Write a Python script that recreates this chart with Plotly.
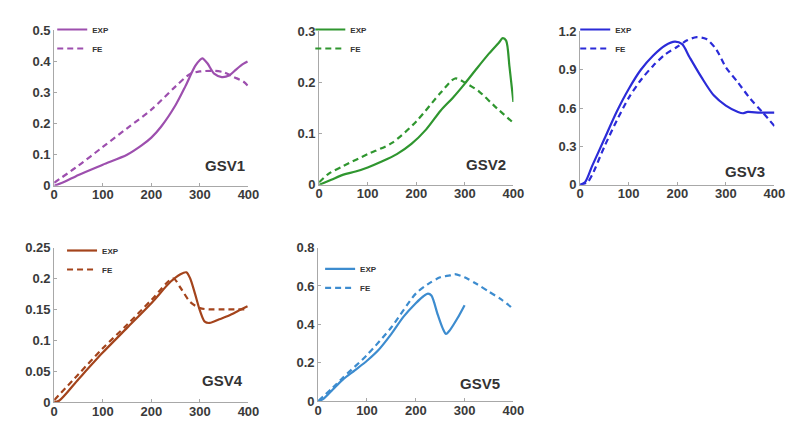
import plotly.graph_objects as go

# ---------------- data ----------------
gsv1_exp_x = [0, 20, 50, 100, 150, 180, 200, 220, 250, 270, 290, 300, 305, 315, 330, 345, 360, 375, 390, 398]
gsv1_exp_y = [0, 0.012, 0.035, 0.068, 0.1, 0.13, 0.155, 0.19, 0.26, 0.32, 0.385, 0.405, 0.41, 0.395, 0.36, 0.35, 0.355, 0.375, 0.393, 0.40]
gsv1_fe_x = [0, 50, 100, 150, 200, 250, 280, 300, 330, 350, 370, 390, 400]
gsv1_fe_y = [0.01, 0.065, 0.125, 0.185, 0.245, 0.32, 0.36, 0.368, 0.37, 0.365, 0.35, 0.335, 0.32]

gsv2_exp_x = [0, 25, 50, 75, 100, 130, 160, 190, 220, 250, 275, 300, 325, 350, 370, 378, 385, 392, 400]
gsv2_exp_y = [0, 0.01, 0.02, 0.026, 0.034, 0.046, 0.06, 0.08, 0.108, 0.145, 0.17, 0.198, 0.228, 0.257, 0.278, 0.287, 0.282, 0.23, 0.162]
gsv2_fe_x = [0, 20, 50, 100, 150, 200, 250, 280, 300, 330, 360, 400]
gsv2_fe_y = [0.005, 0.022, 0.037, 0.06, 0.082, 0.124, 0.18, 0.208, 0.2, 0.182, 0.155, 0.121]

gsv3_exp_x = [0, 10, 25, 50, 75, 100, 125, 150, 175, 195, 210, 225, 250, 275, 300, 325, 335, 345, 370, 400]
gsv3_exp_y = [0, 0.02, 0.15, 0.36, 0.57, 0.75, 0.9, 1.01, 1.09, 1.12, 1.1, 1.0, 0.84, 0.7, 0.62, 0.57, 0.56, 0.57, 0.565, 0.565]
gsv3_fe_x = [0, 15, 25, 50, 75, 100, 125, 150, 175, 200, 220, 240, 260, 280, 300, 325, 350, 375, 400]
gsv3_fe_y = [0, 0.02, 0.08, 0.3, 0.5, 0.68, 0.82, 0.93, 1.02, 1.08, 1.13, 1.155, 1.14, 1.06, 0.92, 0.8, 0.675, 0.57, 0.46]

gsv4_exp_x = [0, 10, 50, 100, 150, 200, 240, 260, 272, 280, 290, 300, 310, 320, 340, 360, 380, 398]
gsv4_exp_y = [0, 0.002, 0.037, 0.08, 0.12, 0.16, 0.195, 0.207, 0.21, 0.2, 0.175, 0.148, 0.13, 0.128, 0.134, 0.14, 0.148, 0.155]
gsv4_fe_x = [0, 50, 100, 150, 200, 245, 260, 280, 300, 320, 350, 400]
gsv4_fe_y = [0.003, 0.045, 0.087, 0.125, 0.165, 0.2, 0.185, 0.162, 0.152, 0.15, 0.15, 0.15]

gsv5_exp_x = [0, 10, 30, 50, 75, 100, 125, 150, 175, 200, 215, 225, 232, 245, 255, 262, 270, 285, 300]
gsv5_exp_y = [0, 0.01, 0.06, 0.11, 0.16, 0.21, 0.27, 0.35, 0.44, 0.51, 0.545, 0.56, 0.55, 0.45, 0.38, 0.35, 0.37, 0.43, 0.5]
gsv5_fe_x = [0, 30, 50, 100, 150, 200, 225, 250, 270, 280, 300, 325, 350, 375, 400]
gsv5_fe_y = [0, 0.07, 0.12, 0.24, 0.385, 0.56, 0.61, 0.645, 0.655, 0.662, 0.645, 0.61, 0.57, 0.53, 0.48]

titles = ["GSV1", "GSV2", "GSV3", "GSV4", "GSV5"]
x_ticks = [0, 100, 200, 300, 400]
y_ticks = [
    [0, 0.1, 0.2, 0.3, 0.4, 0.5],
    [0, 0.1, 0.2, 0.3],
    [0, 0.3, 0.6, 0.9, 1.2],
    [0, 0.05, 0.1, 0.15, 0.2, 0.25],
    [0, 0.2, 0.4, 0.6, 0.8],
]
y_tick_text = [
    ["0", "0.1", "0.2", "0.3", "0.4", "0.5"],
    ["0", "0.1", "0.2", "0.3"],
    ["0", "0.3", "0.6", "0.9", "1.2"],
    ["0", "0.05", "0.1", "0.15", "0.2", "0.25"],
    ["0", "0.2", "0.4", "0.6", "0.8"],
]
colors = ["#9d4fae", "#2f962f", "#2b2bd8", "#a4441c", "#3d8ccf"]

series = [
    (gsv1_exp_x, gsv1_exp_y, gsv1_fe_x, gsv1_fe_y),
    (gsv2_exp_x, gsv2_exp_y, gsv2_fe_x, gsv2_fe_y),
    (gsv3_exp_x, gsv3_exp_y, gsv3_fe_x, gsv3_fe_y),
    (gsv4_exp_x, gsv4_exp_y, gsv4_fe_x, gsv4_fe_y),
    (gsv5_exp_x, gsv5_exp_y, gsv5_fe_x, gsv5_fe_y),
]

# ---------------- layout geometry (pixels) ----------------
W, H = 800, 430
# (left, right, top, bottom) of each plot area
boxes = [
    (43, 241, 16, 177),
    (313, 511, 17, 176),
    (579, 777, 17, 176),
    (43, 241, 241, 401),
    (312, 511, 241, 400),
]
legend_pos = [(41, 0), (304, 0), (574, 0), (51, 229), (314, 248)]
label_pos = [(0.88, 0.13), (0.86, 0.13), (0.85, 0.09), (0.867, 0.14), (0.83, 0.115)]

fig = go.Figure()
layout = dict(
    width=W, height=H,
    margin=dict(l=0, r=0, t=0, b=0),
    paper_bgcolor="white", plot_bgcolor="white",
    font=dict(family="Arial, Liberation Sans, sans-serif", color="#333333"),
    showlegend=True,
)
annotations = []

for i, (ex, ey, fx, fy) in enumerate(series):
    n = i + 1
    xa = "x" if n == 1 else f"x{n}"
    ya = "y" if n == 1 else f"y{n}"
    lg = "legend" if n == 1 else f"legend{n}"
    fig.add_trace(go.Scatter(
        x=ex, y=ey, mode="lines", name="EXP", xaxis=xa, yaxis=ya, legend=lg,
        line=dict(color=colors[i], width=2.2, shape="spline", smoothing=0.8),
    ))
    fig.add_trace(go.Scatter(
        x=fx, y=fy, mode="lines", name="FE", xaxis=xa, yaxis=ya, legend=lg,
        line=dict(color=colors[i], width=2.2, dash="6px,4px", shape="spline", smoothing=0.8),
    ))
    l, r, t, b = boxes[i]
    axis_common = dict(
        showline=True, linecolor="#a8a8a8", linewidth=1,
        showgrid=False, zeroline=False,
        ticks="inside", ticklen=3, tickcolor="#a8a8a8",
        tickfont=dict(size=13, weight="bold", color="#3a3a3a"),
    )
    layout["xaxis" if n == 1 else f"xaxis{n}"] = dict(
        domain=[l / W, r / W], anchor=ya, range=[0, 400],
        tickvals=x_ticks, ticklabelstandoff=-3, **axis_common,
    )
    layout["yaxis" if n == 1 else f"yaxis{n}"] = dict(
        domain=[1 - b / H, 1 - t / H], anchor=xa,
        range=[0, y_ticks[i][-1]], tickvals=y_ticks[i], ticktext=y_tick_text[i],
        **axis_common,
    )
    lx, ly = legend_pos[i]
    layout[lg] = dict(
        x=lx / W, y=1 - ly / H, xanchor="left", yanchor="top",
        xref="paper", yref="paper",
        bgcolor="rgba(0,0,0,0)", borderwidth=0,
        font=dict(size=8, weight="bold", color="#333333"),
        itemwidth=30, tracegroupgap=0,
    )
    ax, ay = label_pos[i]
    annotations.append(dict(
        text=titles[i], x=ax, y=ay, xref=f"{xa} domain", yref=f"{ya} domain",
        showarrow=False, xanchor="center", yanchor="middle",
        font=dict(size=15, weight="bold", color="#333333"),
    ))

layout["annotations"] = annotations
fig.update_layout(**layout)
fig.write_html("out.html")
